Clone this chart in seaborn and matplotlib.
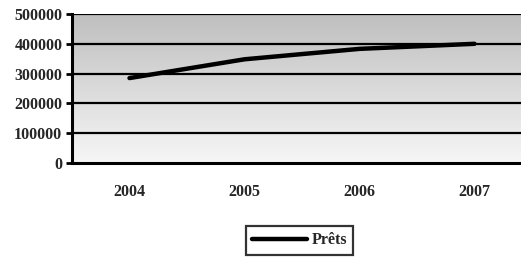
import numpy as np
import pandas as pd
import matplotlib
matplotlib.use('Agg')
import matplotlib.pyplot as plt
from matplotlib.colors import LinearSegmentedColormap
from matplotlib.lines import Line2D
import seaborn as sns

# data
years = ['2004', '2005', '2006', '2007']
prets = [285000, 348000, 383000, 400000]
yticks = [0, 100000, 200000, 300000, 400000, 500000]

df = pd.DataFrame({'Année': years, 'Prêts': prets})

sns.set_style('white')
plt.rcParams['font.family'] = ['Liberation Serif', 'DejaVu Serif']
plt.rcParams['font.weight'] = 'bold'

fig = plt.figure(figsize=(5.21, 2.57), dpi=100)
ax = fig.add_axes([72 / 521, 1 - 163 / 257, 460 / 521, 149 / 257])

# grey gradient background (dark at top, light at bottom)
cmap = LinearSegmentedColormap.from_list('bg', ['#f6f6f6', '#bfbfbf'])
grad = np.linspace(0, 1, 256).reshape(-1, 1)
ax.imshow(grad, extent=[-0.5, 3.5, 0, 500000], origin='lower', aspect='auto',
          cmap=cmap, zorder=0)

for v in yticks[1:]:
    ax.axhline(v, color='black', lw=1.6, zorder=1)

sns.lineplot(data=df, x='Année', y='Prêts', color='black', lw=3.2, ax=ax,
             zorder=3, legend=False)

ax.set_xlim(-0.5, 3.5)
ax.set_ylim(0, 500000)
ax.set_yticks(yticks)
ax.set_yticklabels([str(v) for v in yticks], fontsize=11.5, fontweight='bold')
ax.set_xticks(range(len(years)))
ax.set_xticklabels(years, fontsize=11.5, fontweight='bold')
ax.set_xticks([0.5, 1.5, 2.5], minor=True)
ax.tick_params(axis='x', which='major', length=0, pad=15)
ax.tick_params(axis='x', which='minor', direction='out', length=4, width=2, color='black')
ax.tick_params(axis='y', direction='out', length=4, width=2, color='black', pad=3, left=True)
ax.set_xlabel('')
ax.set_ylabel('')

for side in ['top', 'right']:
    ax.spines[side].set_visible(False)
for side in ['left', 'bottom']:
    ax.spines[side].set_color('black')
    ax.spines[side].set_linewidth(2.2)
    ax.spines[side].set_zorder(4)

handle = Line2D([], [], color='black', lw=3.2)
leg = fig.legend([handle], ['Prêts'], loc='upper left',
                 bbox_to_anchor=(246 / 521, 1 - 226 / 257), frameon=True,
                 fancybox=False, handlelength=3.4, handletextpad=0.3,
                 borderpad=0.4, borderaxespad=0,
                 prop={'size': 11.5, 'weight': 'bold'})
leg.get_frame().set_edgecolor('black')
leg.get_frame().set_linewidth(1.6)

fig.savefig('out.png', dpi=100)
